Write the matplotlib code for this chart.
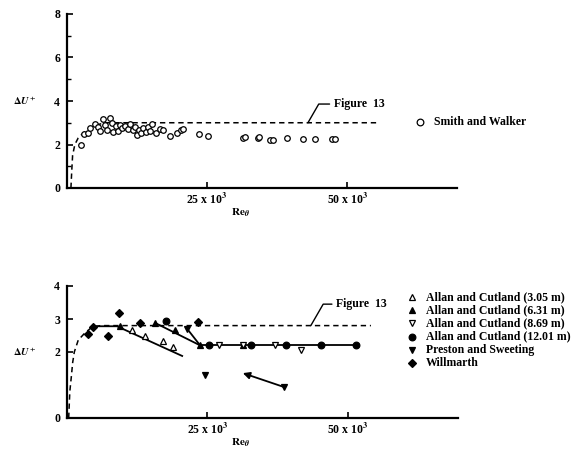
import matplotlib
matplotlib.use('Agg')
import matplotlib.pyplot as plt
from matplotlib.lines import Line2D

plt.rcParams['font.family'] = ['Liberation Serif', 'DejaVu Serif']
plt.rcParams['font.weight'] = 'bold'
plt.rcParams['mathtext.fontset'] = 'stix'

# upper panel: Smith and Walker
sw_re = [2500, 3000, 3750, 4100, 5000, 5500, 5900, 6400, 6800, 7100, 7700, 8000, 8200, 8750,
         9100, 9500, 9800, 10400, 10900, 11250, 11800, 12100, 12500, 12900, 13200, 13600,
         14100, 14500, 14800, 15200, 15900, 16600, 17100, 18400, 19600, 20400, 20700, 23600,
         25200, 31400, 31800, 34100, 34300, 36300, 36800, 39300, 42100, 44300, 47300, 47900]
sw_du = [1.98, 2.48, 2.53, 2.76, 2.94, 2.8, 2.62, 3.17, 2.9, 2.67, 3.2, 3.0, 2.57, 2.85,
         2.62, 2.9, 2.76, 2.85, 2.71, 2.94, 2.67, 2.8, 2.44, 2.67, 2.53, 2.76,
         2.57, 2.8, 2.62, 2.94, 2.53, 2.71, 2.67, 2.39, 2.53, 2.67, 2.71, 2.48,
         2.39, 2.3, 2.35, 2.3, 2.35, 2.2, 2.2, 2.3, 2.25, 2.25, 2.25, 2.25]

# Figure 13 curve, upper panel
fig13a_re = [700, 850, 1000, 1400, 2000, 3000, 4000, 5500, 7000, 55400]
fig13a_du = [0, 0.8, 1.5, 2.0, 2.3, 2.55, 2.75, 2.92, 3.0, 3.0]

# Figure 13 curve, lower panel
fig13b_re = [300, 500, 800, 1000, 1300, 2000, 3200, 4500, 6000, 54100]
fig13b_du = [0, 0.8, 1.3, 1.67, 2.0, 2.36, 2.58, 2.76, 2.8, 2.8]

# lower panel series
ac305_re = [11600, 13900, 17000, 18900]
ac305_du = [2.67, 2.48, 2.33, 2.15]
ac305_fit_re = [4700, 8900, 20500]
ac305_fit_du = [2.78, 2.78, 1.88]

ac631_re = [9500, 15700, 19300, 23700, 31300]
ac631_du = [2.8, 2.88, 2.67, 2.2, 2.2]
ac631_fit_re = [15700, 23700]
ac631_fit_du = [2.88, 2.2]

ac869_re = [27000, 31300, 37100, 41600]
ac869_du = [2.2, 2.2, 2.2, 2.05]

ac1201_re = [17600, 25200, 32700, 38900, 45200, 51400]
ac1201_du = [2.95, 2.2, 2.2, 2.2, 2.2, 2.2]
ac1201_fit_re = [23700, 51400]
ac1201_fit_du = [2.2, 2.2]

ps_re = [21400, 24600, 38600]
ps_du = [2.7, 1.30, 0.94]
ps_fit_re = [21400, 23700]
ps_fit_du = [2.7, 2.2]
ps_arrow = [(38600, 0.94), (31300, 1.36)]

wm_re = [3800, 4700, 7300, 9300, 13000, 23400]
wm_du = [2.55, 2.76, 2.48, 3.18, 2.88, 2.9]

W, H = 575, 453
fig = plt.figure(figsize=(W / 100, H / 100), dpi=100)
ax1 = fig.add_axes([67 / W, 1 - 188 / H, 390 / W, 174 / H])
ax2 = fig.add_axes([67 / W, 1 - 418 / H, 391 / W, 132 / H])

xmax = 69600
for ax in (ax1, ax2):
    ax.set_xlim(0, xmax)
    for s in ('top', 'right'):
        ax.spines[s].set_visible(False)
    for s in ('left', 'bottom'):
        ax.spines[s].set_linewidth(1.6)
    ax.set_xticks([25000, 50000])
    ax.set_xticklabels(['25 x 10$^3$', '50 x 10$^3$'])
    ax.tick_params(direction='in', length=4, width=1.2, labelsize=8.5, pad=3)
    ax.tick_params(axis='y', pad=5)
    ax.patch.set_alpha(0)

ax1.set_ylim(0, 8)
ax1.set_yticks([0, 2, 4, 6, 8])
ax1.set_yticks([1, 3, 5, 7], minor=True)
ax1.tick_params(axis='y', which='minor', direction='in', length=3, width=1.0)

ax2.set_ylim(0, 4)
ax2.set_yticks([0, 2, 3, 4])

dash = dict(color='black', lw=1.1, ls=(0, (3.5, 2.5)))
ax1.plot(fig13a_re, fig13a_du, **dash)
ax1.plot(sw_re, sw_du, 'o', ms=4, mfc='white', mec='black', mew=0.9)

ax2.plot(fig13b_re, fig13b_du, **dash)
line = dict(color='black', lw=1.3)
ax2.plot(ac305_fit_re, ac305_fit_du, **line)
ax2.plot(ac631_fit_re, ac631_fit_du, **line)
ax2.plot(ac1201_fit_re, ac1201_fit_du, **line)
ax2.plot(ps_fit_re, ps_fit_du, **line)
ax2.annotate('', xy=ps_arrow[1], xytext=ps_arrow[0],
             arrowprops=dict(arrowstyle='-|>', color='black', lw=1.3,
                             mutation_scale=10, shrinkA=0, shrinkB=0))

mk = dict(ms=4.8, mec='black', mew=0.9, ls='none')
ax2.plot(ac305_re, ac305_du, '^', mfc='white', **mk)
ax2.plot(ac631_re, ac631_du, '^', mfc='black', **mk)
ax2.plot(ac869_re, ac869_du, 'v', mfc='white', **mk)
ax2.plot(ac1201_re, ac1201_du, 'o', mfc='black', **mk)
ax2.plot(ps_re, ps_du, 'v', mfc='black', **mk)
ax2.plot(wm_re, wm_du, 'D', mfc='black', ms=4.2, mec='black', mew=0.9, ls='none')

# "Figure 13" leaders
ax1.annotate('Figure  13', xy=(43000, 3.0), xytext=(47600, 3.86), fontsize=8.5,
             ha='left', va='center',
             arrowprops=dict(arrowstyle='-', color='black', lw=1.0, shrinkA=1, shrinkB=0,
                             connectionstyle='angle,angleA=0,angleB=60,rad=0'))
ax2.annotate('Figure  13', xy=(43400, 2.8), xytext=(47900, 3.45), fontsize=8.5,
             ha='left', va='center',
             arrowprops=dict(arrowstyle='-', color='black', lw=1.0, shrinkA=1, shrinkB=0,
                             connectionstyle='angle,angleA=0,angleB=60,rad=0'))

# axis titles
fig.text(25 / W, 1 - 101 / H, r'$\Delta U^{+}$', fontsize=7.5, ha='center', va='center')
fig.text(25 / W, 1 - 352 / H, r'$\Delta U^{+}$', fontsize=7.5, ha='center', va='center')
fig.text(240 / W, 1 - 213 / H, r'$\mathbf{Re}_{\theta}$', fontsize=8, ha='center', va='center')
fig.text(240 / W, 1 - 443 / H, r'$\mathbf{Re}_{\theta}$', fontsize=8, ha='center', va='center')

# keys
def key(x, y, marker, face, label, size=4.8):
    fig.add_artist(Line2D([x / W], [1 - y / H], marker=marker, ms=size, mfc=face,
                          mec='black', mew=0.9, ls='none', transform=fig.transFigure))
    fig.text((x + 14) / W, 1 - y / H, label, fontsize=8.5, ha='left', va='center')

key(420, 122, 'o', 'white', 'Smith and Walker')

labels = ['Allan and Cutland (3.05 m)', 'Allan and Cutland (6.31 m)',
          'Allan and Cutland (8.69 m)', 'Allan and Cutland (12.01 m)',
          'Preston and Sweeting', 'Willmarth']
markers = [('^', 'white'), ('^', 'black'), ('v', 'white'), ('o', 'black'),
           ('v', 'black'), ('D', 'black')]
for i, (lab, (m, f)) in enumerate(zip(labels, markers)):
    key(412, 297 + i * 13.2, m, f, lab, size=4.2 if m == 'D' else 4.8)

fig.savefig('out.png', dpi=100)
